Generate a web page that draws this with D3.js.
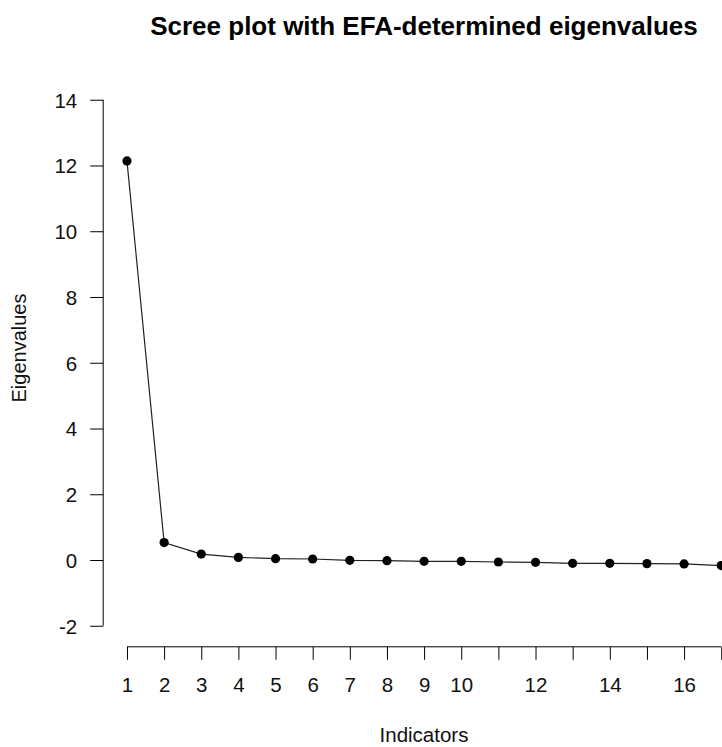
<!DOCTYPE html>
<html>
<head>
<meta charset="utf-8">
<script src="https://cdn.jsdelivr.net/npm/d3@7"></script>
<style>
  body { margin: 0; background: white; }
  svg { display: block; font-family: "Liberation Sans", Arial, sans-serif; }
</style>
</head>
<body>
<script>
const indicators = [1, 2, 3, 4, 5, 6, 7, 8, 9, 10, 11, 12, 13, 14, 15, 16, 17];
const eigenvalues = [12.14, 0.53, 0.18, 0.08, 0.04, 0.03, -0.01, -0.02, -0.04, -0.04,
  -0.06, -0.07, -0.1, -0.1, -0.11, -0.12, -0.17];
const yTicks = [-2, 0, 2, 4, 6, 8, 10, 12, 14];
const xLabels = [1, 2, 3, 4, 5, 6, 7, 8, 9, 10, 12, 14, 16];

const width = 722;
const height = 747;
const tickFont = 20.5;

// R-style usr range: data range padded by 4% on each side
const xlim = [1, 17];
const ylim = [-2, 14];
const padX = 0.04 * (xlim[1] - xlim[0]);
const padY = 0.04 * (ylim[1] - ylim[0]);

const x = d3.scaleLinear()
  .domain([xlim[0] - padX, xlim[1] + padX])
  .range([103.2, 745]);
const y = d3.scaleLinear()
  .domain([ylim[0] - padY, ylim[1] + padY])
  .range([646.8, 78.7]);

const svg = d3.select("body").append("svg")
  .attr("width", width)
  .attr("height", height)
  .attr("viewBox", [0, 0, width, height]);

// title
svg.append("text")
  .attr("x", 424)
  .attr("y", 35)
  .attr("text-anchor", "middle")
  .attr("font-weight", "bold")
  .attr("font-size", 26)
  .text("Scree plot with EFA-determined eigenvalues");

// y axis
const yAxis = svg.append("g")
  .attr("transform", `translate(${x.range()[0]},0)`)
  .call(d3.axisLeft(y).tickValues(yTicks).tickSize(13).tickPadding(13).tickSizeOuter(0)
    .tickFormat(d => String(d)));
yAxis.select(".domain").remove();
yAxis.append("line")
  .attr("y1", y(ylim[0]))
  .attr("y2", y(ylim[1]))
  .attr("stroke", "black");
yAxis.selectAll(".tick line").attr("stroke", "black");
yAxis.selectAll(".tick text")
  .attr("font-size", tickFont)
  .attr("font-family", "Liberation Sans, Arial, sans-serif")
  .attr("fill", "#111")
  .attr("dy", "0.36em");

// x axis
const xAxis = svg.append("g")
  .attr("transform", `translate(0,${y.range()[0]})`)
  .call(d3.axisBottom(x).tickValues(indicators).tickSize(13).tickPadding(18).tickSizeOuter(0)
    .tickFormat(d => xLabels.includes(d) ? String(d) : ""));
xAxis.select(".domain").remove();
xAxis.append("line")
  .attr("x1", x(xlim[0]))
  .attr("x2", x(xlim[1]))
  .attr("stroke", "black");
xAxis.selectAll(".tick line").attr("stroke", "black");
xAxis.selectAll(".tick text")
  .attr("font-size", tickFont)
  .attr("font-family", "Liberation Sans, Arial, sans-serif")
  .attr("fill", "#111");

// axis titles
svg.append("text")
  .attr("x", 424)
  .attr("y", 742)
  .attr("text-anchor", "middle")
  .attr("font-size", 20.5)
  .attr("fill", "#111")
  .text("Indicators");

svg.append("text")
  .attr("transform", "translate(26,348) rotate(-90)")
  .attr("text-anchor", "middle")
  .attr("font-size", 20)
  .attr("fill", "#111")
  .text("Eigenvalues");

// line + points
const line = d3.line()
  .x((d, i) => x(indicators[i]))
  .y(d => y(d));

svg.append("path")
  .datum(eigenvalues)
  .attr("d", line)
  .attr("fill", "none")
  .attr("stroke", "#222")
  .attr("stroke-width", 1.2);

svg.append("g")
  .selectAll("circle")
  .data(eigenvalues)
  .join("circle")
  .attr("cx", (d, i) => x(indicators[i]))
  .attr("cy", d => y(d))
  .attr("r", 4.6)
  .attr("fill", "black");
</script>
</body>
</html>
